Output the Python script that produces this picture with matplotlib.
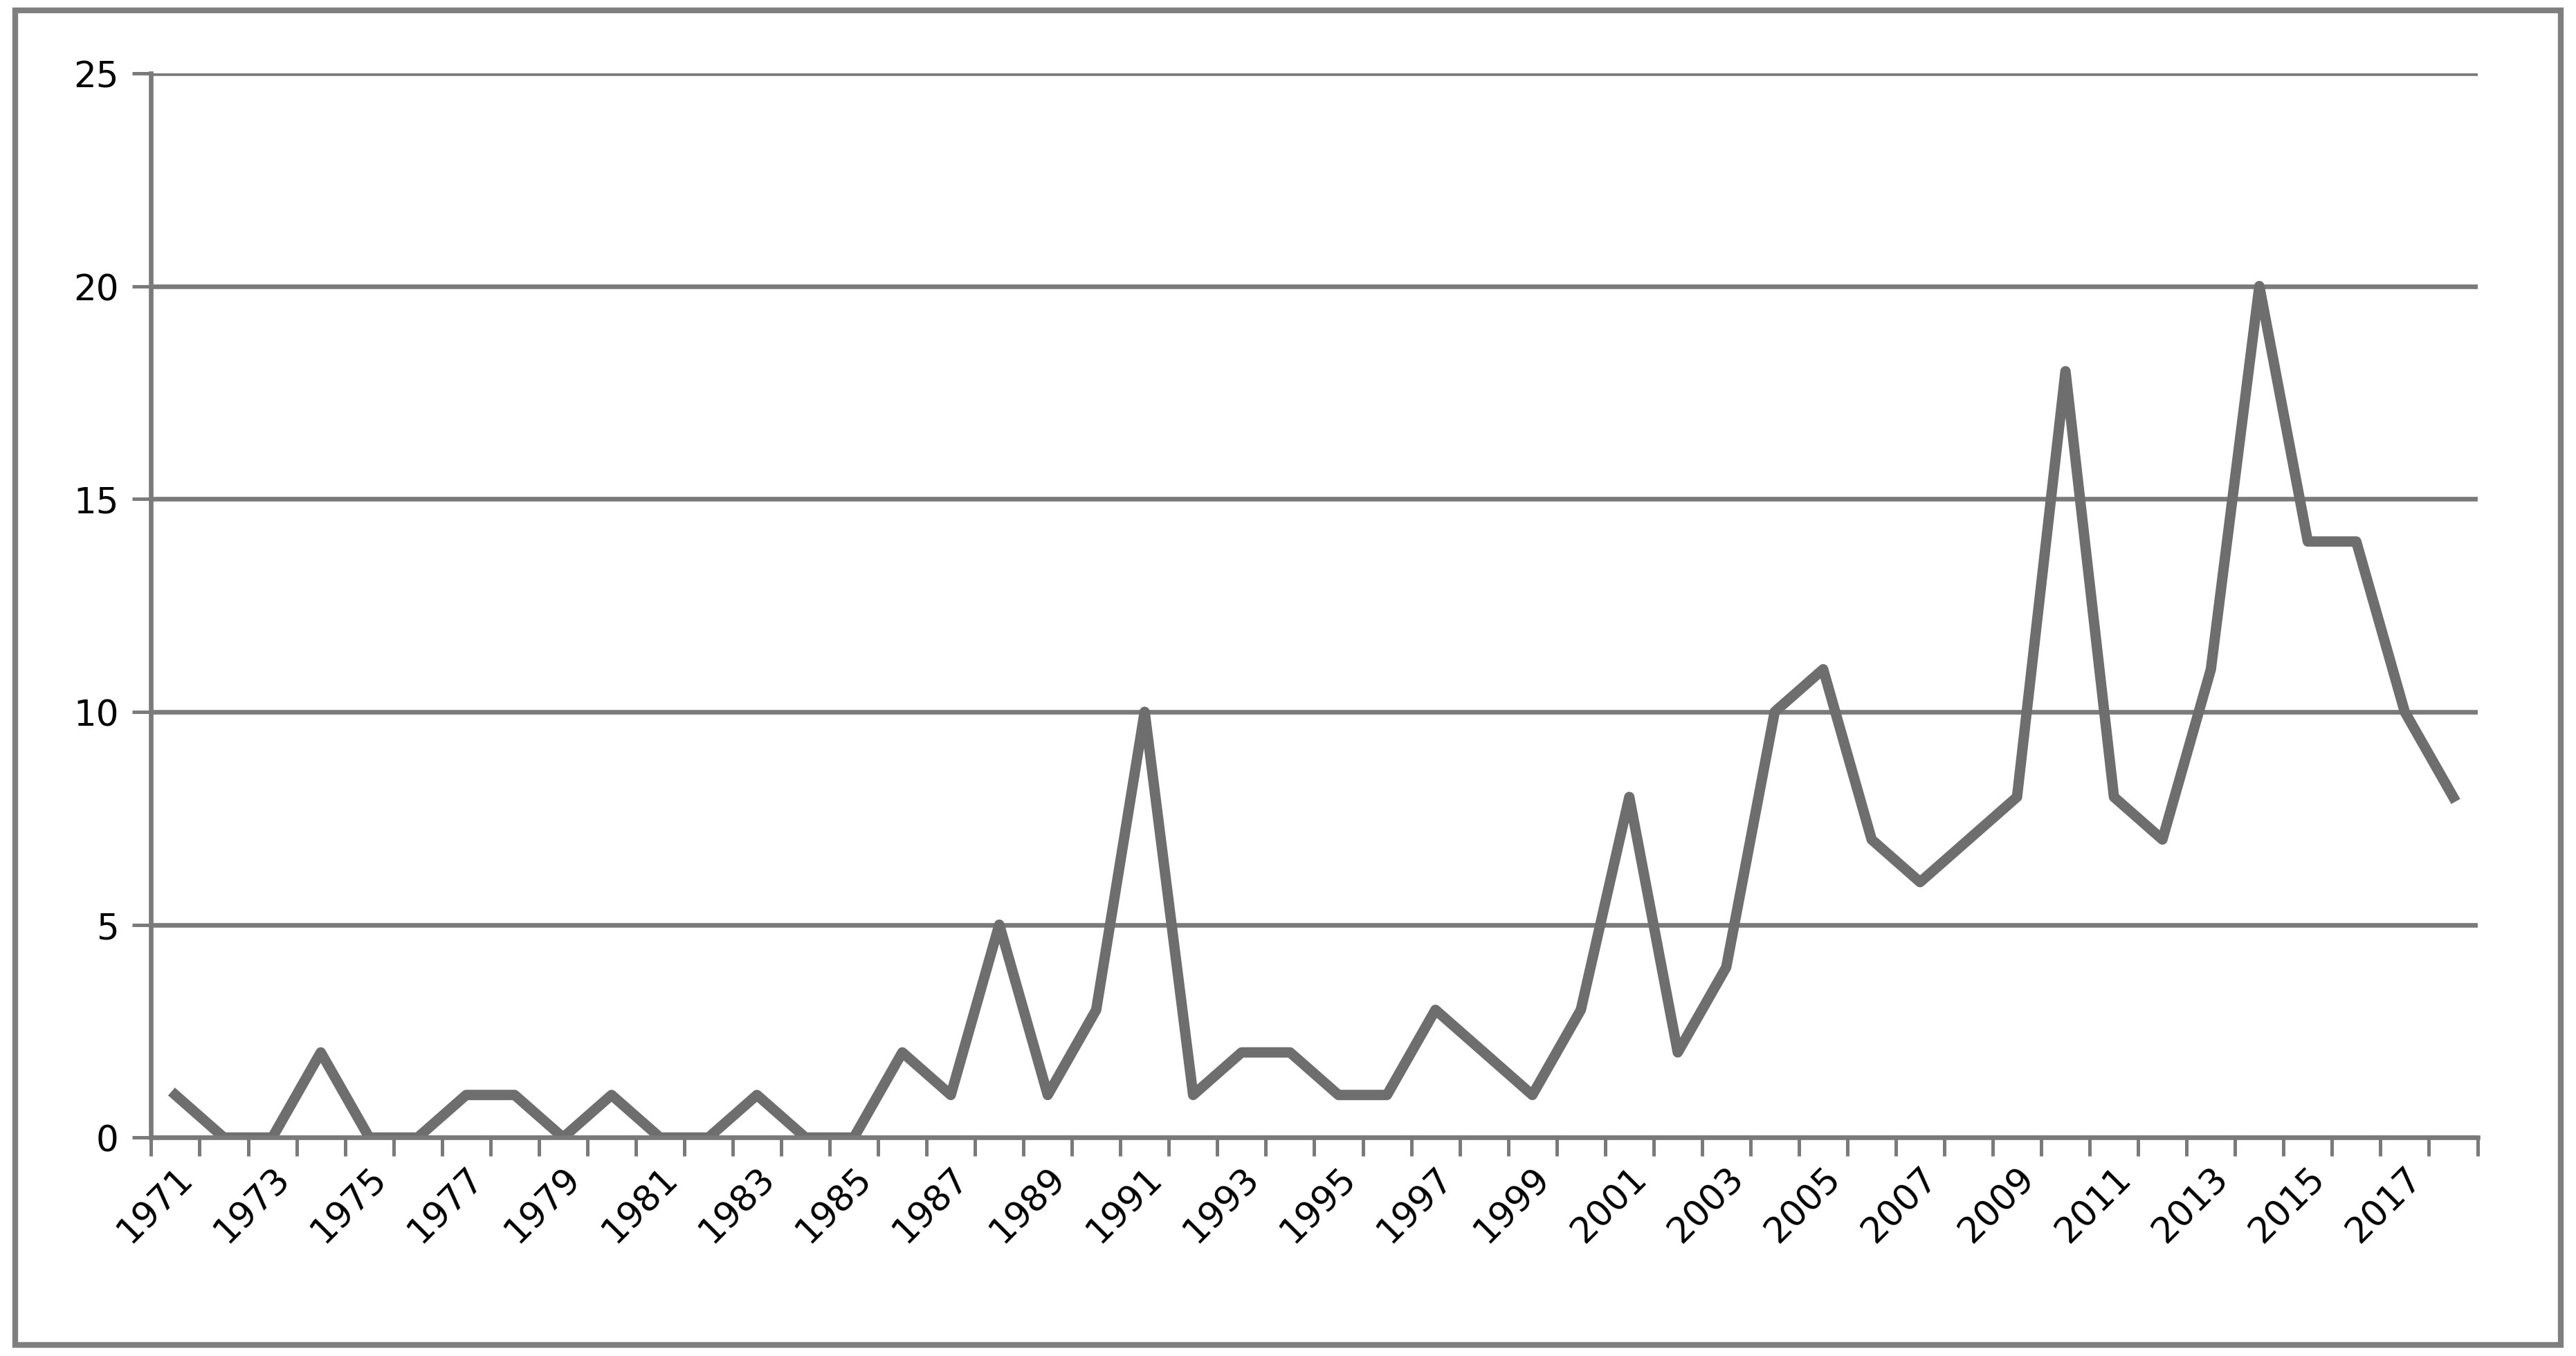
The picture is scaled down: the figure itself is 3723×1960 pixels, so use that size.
import matplotlib
matplotlib.use("Agg")
import matplotlib.pyplot as plt
from matplotlib.patches import Rectangle

years = list(range(1971, 2019))
counts = [1, 0, 0, 2, 0, 0, 1, 1, 0, 1, 0, 0, 1, 0, 0, 2, 1, 5, 1, 3,
          10, 1, 2, 2, 1, 1, 3, 2, 1, 3, 8, 2, 4, 10, 11, 7, 6, 7, 8, 18,
          8, 7, 11, 20, 14, 14, 10, 8]

fig = plt.figure(figsize=(3723 / 240, 1961 / 240), dpi=240)
ax = fig.add_axes([92 / 1568, 1 - 693 / 826, (1508 - 92) / 1568, (693 - 45) / 826])
fig.patches.append(Rectangle((0.006, 0.008), 0.988, 0.984, transform=fig.transFigure,
                             fill=False, ec="#7f7f7f", lw=2.5))

x = list(range(len(years)))
ax.plot(x, counts, color="#6e6e6e", lw=4.5, solid_joinstyle="round")
ax.set_xlim(-0.5, len(years) - 0.5)
ax.set_ylim(0, 25)
ax.set_yticks(range(0, 26, 5))
ax.yaxis.grid(True, color="#7a7a7a", lw=2)
ax.set_axisbelow(True)
ax.set_xticks([i - 0.5 for i in range(len(years) + 1)], minor=True)
ax.set_xticks(x[::2])
ax.set_xticklabels([str(y) for y in years[::2]], rotation=45, ha="right",
                   rotation_mode="anchor", fontsize=15.5)
ax.tick_params(axis="x", which="major", length=0, pad=10)
ax.tick_params(axis="x", which="minor", length=8, width=1.5, color="#7a7a7a")
ax.tick_params(axis="y", length=8, width=1.5, color="#7a7a7a", labelsize=15.5, pad=6)
for s in ["top", "right"]:
    ax.spines[s].set_visible(False)
for s in ["left", "bottom"]:
    ax.spines[s].set_color("#7a7a7a")
    ax.spines[s].set_linewidth(2)

fig.savefig("out.png", dpi=240)
